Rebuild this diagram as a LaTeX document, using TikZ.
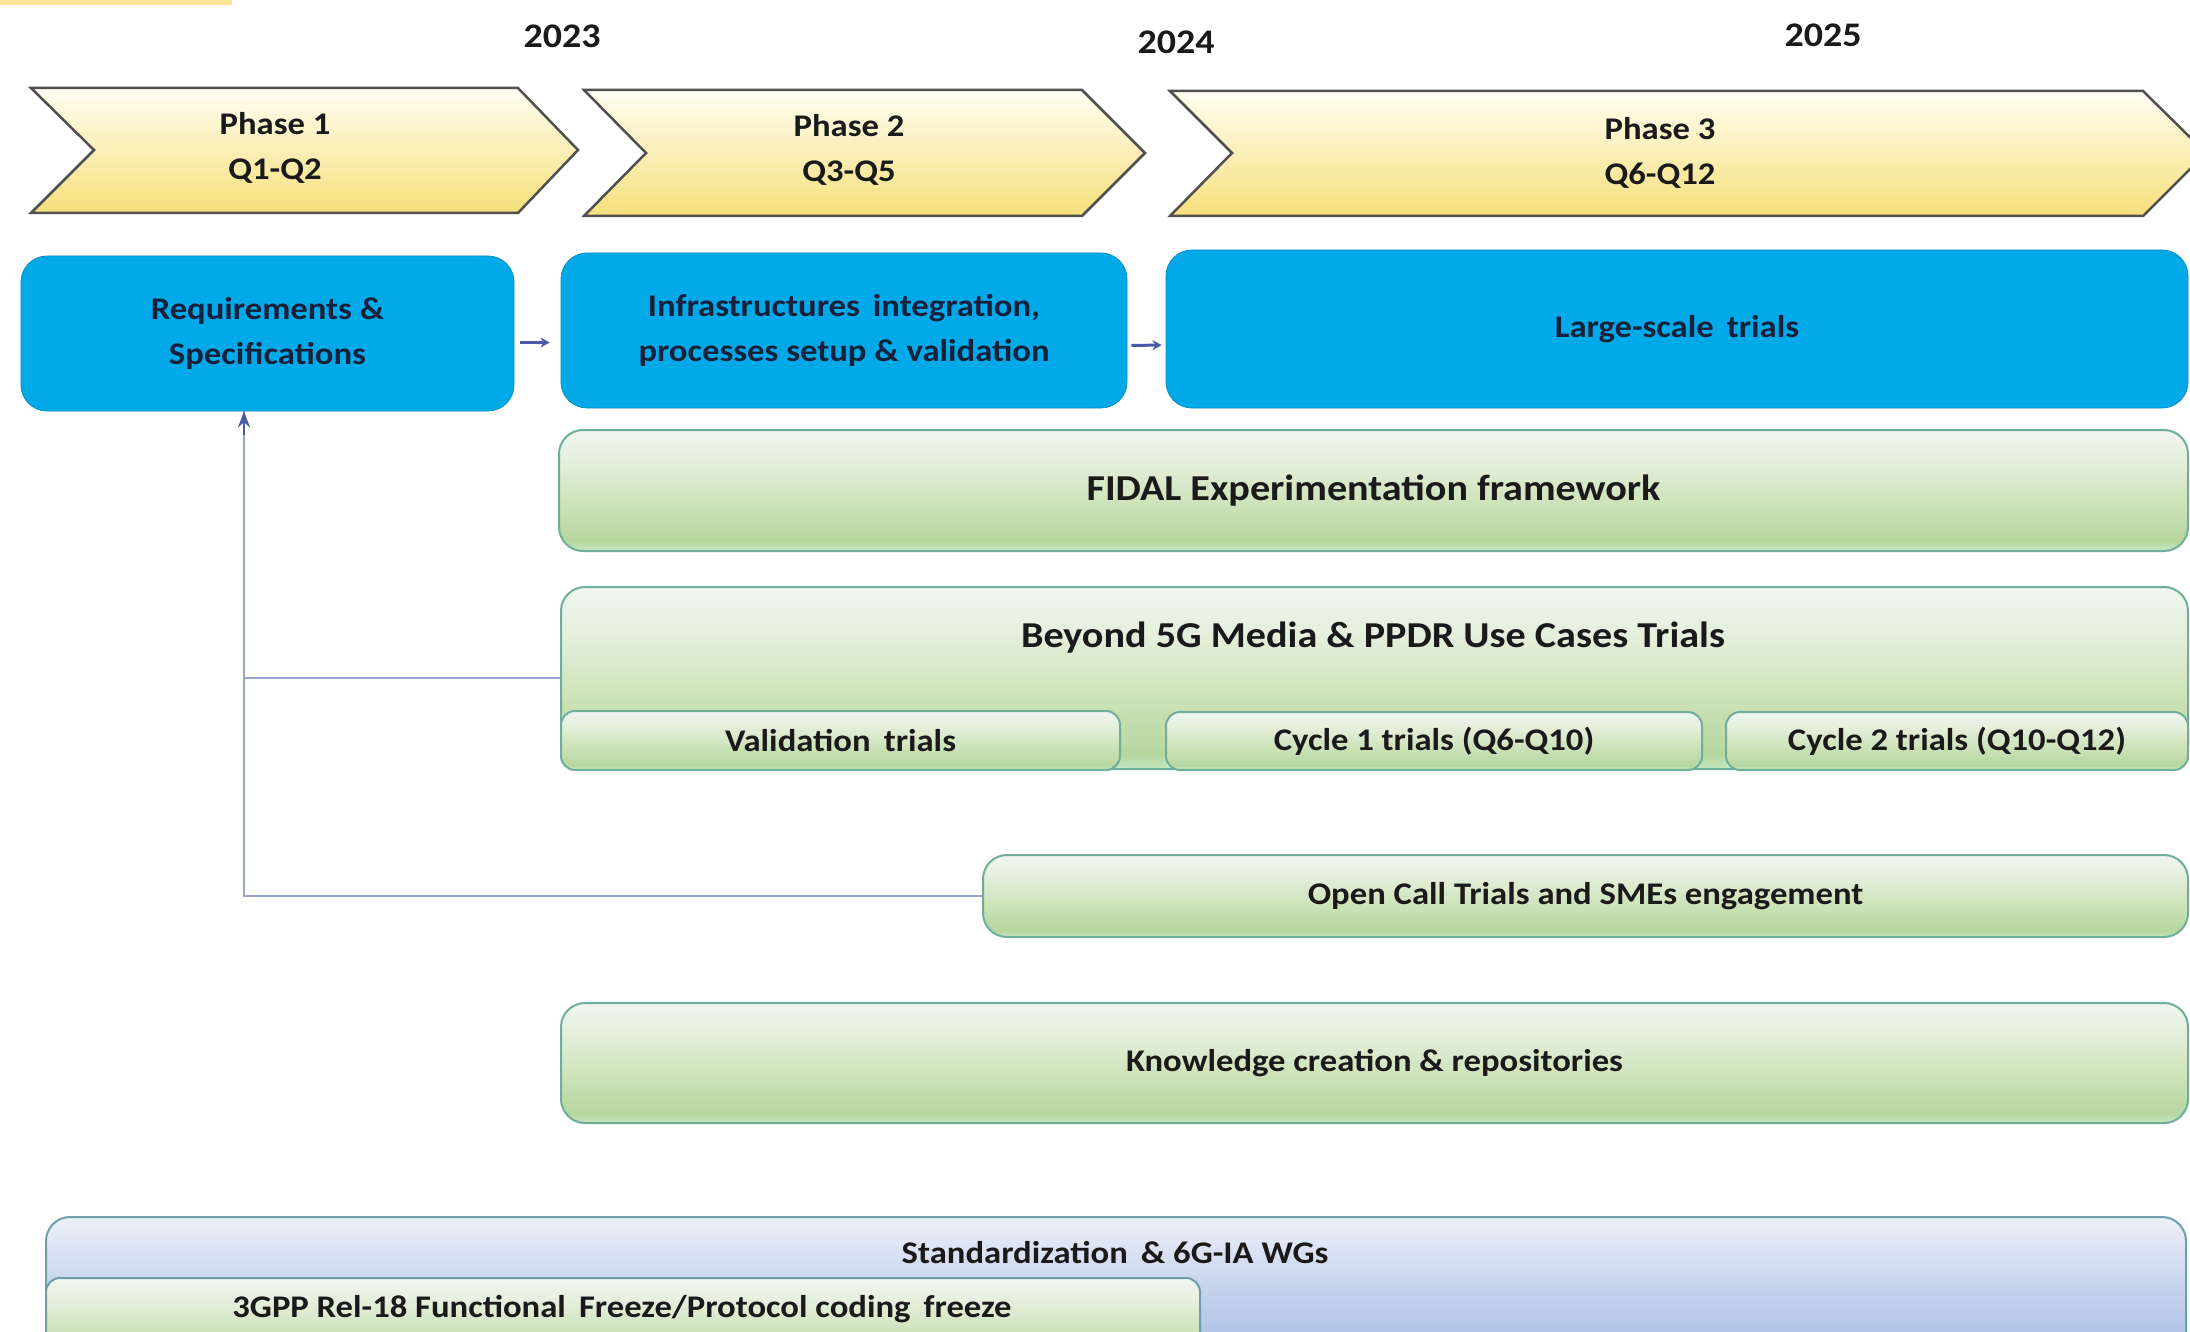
\documentclass[tikz,border=0pt]{standalone}
\usepackage{fontspec}
\setmainfont{Carlito}[FakeStretch=1.1]
\usetikzlibrary{arrows.meta,calc}

\definecolor{barYellow}{HTML}{FFE497}
\definecolor{skyBlue}{HTML}{02A9E8}
\definecolor{inkNavy}{HTML}{15203A}
\definecolor{inkDark}{HTML}{1A1A1A}
\definecolor{chevEdge}{HTML}{505050}
\definecolor{chevTop}{HTML}{FFFEF3}
\definecolor{chevBot}{HTML}{F5E07A}
\definecolor{grEdge}{HTML}{6FAE9A}
\definecolor{grA}{HTML}{C4E7C2}
\definecolor{grB}{HTML}{B6D69E}
\definecolor{grC}{HTML}{CDE3BA}
\definecolor{grD}{HTML}{E4EFDC}
\definecolor{grE}{HTML}{F0F6F0}
\definecolor{stEdge}{HTML}{6E9FAA}
\definecolor{stA}{HTML}{A5BCE6}
\definecolor{stB}{HTML}{C3D1EC}
\definecolor{stC}{HTML}{EDF1F8}
\definecolor{linkLine}{HTML}{9AA4C8}
\definecolor{linkHead}{HTML}{4A5AA6}

% glossy green and blue bands (bottom -> top)
\pgfdeclareverticalshading{greenband}{100bp}{color(0bp)=(grA); color(25bp)=(grA); color(29bp)=(grB); color(45bp)=(grC); color(62bp)=(grD); color(75bp)=(grE); color(100bp)=(grE)}
\pgfdeclareverticalshading{blueband}{100bp}{color(0bp)=(stA); color(25bp)=(stA); color(50bp)=(stB); color(75bp)=(stC); color(100bp)=(stC)}

\tikzset{
  lbl/.style={font=\fontsize{31.5}{45}\selectfont\bfseries, text=inkDark, align=center, inner sep=0pt},
  biglbl/.style={font=\fontsize{36.5}{45}\selectfont\bfseries, text=inkDark, align=center, inner sep=0pt},
  yearlbl/.style={font=\fontsize{34.5}{40}\selectfont\bfseries, text=inkDark, inner sep=0pt},
  chev/.style={top color=chevTop, bottom color=chevBot, draw=chevEdge, line width=2.5pt, line join=miter},
  bluebox/.style={rectangle, rounded corners=26pt, fill=skyBlue, draw=skyBlue!85!black, line width=0.8pt,
    inner sep=0pt, align=center, text=inkNavy, font=\fontsize{31.5}{45}\selectfont\bfseries},
  greenbox/.style={rectangle, rounded corners=24pt, shading=greenband, draw=grEdge, line width=2pt, inner sep=0pt},
  subbox/.style={greenbox, rounded corners=14pt},
  stdbox/.style={rectangle, rounded corners=24pt, shading=blueband, draw=stEdge, line width=2pt, inner sep=0pt},
  flow/.style={draw=linkHead, line width=3pt, -{Stealth[length=9pt,width=10pt]}},
  feedback/.style={draw=linkLine, line width=2pt},
}

\begin{document}
\begin{tikzpicture}[x=1pt, y=-1pt]
\useasboundingbox (0,0) rectangle (2190,1332);
\fill[white] (0,0) rectangle (2190,1332);
\clip (0,0) rectangle (2190,1332);

% corner tab
\fill[barYellow] (0,0) rectangle (232,5);

% years
\node[yearlbl] (y2023) at (562,36) {2023};
\node[yearlbl] (y2024) at (1176,42) {2024};
\node[yearlbl] (y2025) at (1823,35) {2025};

% phase chevrons
\draw[chev] (31,88) -- (518,88) -- (578,150) -- (518,213) -- (31,213) -- (94,150) -- cycle;
\draw[chev] (584,90) -- (1082,90) -- (1145,153) -- (1082,216) -- (584,216) -- (646,153) -- cycle;
\draw[chev] (1170,91) -- (2143,91) -- (2206,153) -- (2143,216) -- (1170,216) -- (1232,153) -- cycle;
\node[lbl] (ph1) at (275,148) {Phase 1\\Q1-Q2};
\node[lbl] (ph2) at (849,150) {Phase 2\\Q3-Q5};
\node[lbl] (ph3) at (1660,153) {Phase 3\\Q6-Q12};

% phase activities
\node[bluebox, minimum width=493pt, minimum height=155pt] (req) at (267.5,333.5)
  {Requirements \&\\Specifications};
\node[bluebox, minimum width=566pt, minimum height=155pt] (infra) at (844,330.5)
  {Infrastructures\, integration,\\processes setup \& validation};
\node[bluebox, minimum width=1022pt, minimum height=158pt] (large) at (1677,329)
  {Large-scale\, trials};
\draw[flow, shorten <=6pt, shorten >=11pt] ([yshift=-9pt]req.east) -- ([yshift=-12pt]infra.west);
\draw[flow, shorten <=4pt, shorten >=4pt] ([yshift=-15pt]infra.east) -- ([yshift=-16pt]large.west);

% experimentation framework
\node[greenbox, minimum width=1629pt, minimum height=121pt] (fidal) at (1373.5,490.5) {};
\node[biglbl] (fidallbl) at (fidal.center) {FIDAL Experimentation framework};

% use case trials
\node[greenbox, minimum width=1627pt, minimum height=182pt] (beyond) at (1374.5,678) {};
\node[biglbl] (beyondlbl) at (1373,638) {Beyond 5G Media \& PPDR Use Cases Trials};
\node[subbox, minimum width=559pt, minimum height=59pt] (valid) at (840.5,740.5) {};
\node[subbox, minimum width=536pt, minimum height=58pt] (cyc1) at (1434,741) {};
\node[subbox, minimum width=462pt, minimum height=58pt] (cyc2) at (1957,741) {};
\node[lbl] (validlbl) at (valid.center) {Validation\, trials};
\node[lbl] (cyc1lbl) at (cyc1.center) {Cycle 1 trials (Q6-Q10)};
\node[lbl] (cyc2lbl) at (cyc2.center) {Cycle 2 trials (Q10-Q12)};

% open call
\node[greenbox, minimum width=1205pt, minimum height=82pt] (open) at (1585.5,896) {};
\node[lbl] (openlbl) at (open.center) {Open Call Trials and SMEs engagement};

% knowledge
\node[greenbox, minimum width=1627pt, minimum height=120pt] (know) at (1374.5,1063) {};
\node[lbl] (knowlbl) at (know.center) {Knowledge creation \& repositories};

% standardization
\node[stdbox, minimum width=2140pt, minimum height=150pt] (std) at (1116,1292) {};
\node[lbl] (stdlbl) at (1115,1253) {Standardization\, \& 6G-IA WGs};
\node[subbox, draw=stEdge, minimum width=1154pt, minimum height=90pt] (gpp) at (623,1323) {};
\node[lbl] (gpplbl) at (622,1309) {3GPP Rel-18 Functional\, Freeze/Protocol coding\, freeze};

% feedback into requirements
\coordinate (fb) at ([xshift=-23.5pt]req.south);
\draw[feedback] (open.west) -| (fb);
\draw[feedback] (beyond.west) -- (beyond.west -| fb);
\draw[feedback, linkHead, -{Stealth[length=16pt,width=12pt]}] ([yshift=-24pt]fb) -- (fb);
\end{tikzpicture}
\end{document}
